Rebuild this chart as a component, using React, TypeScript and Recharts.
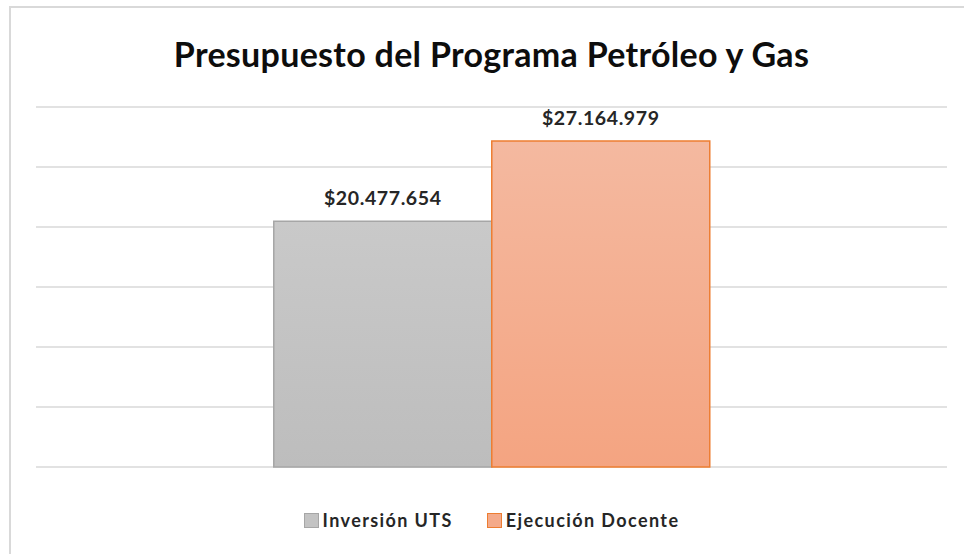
import { BarChart, Bar, XAxis, YAxis, CartesianGrid, Legend, LabelList } from "recharts";

const categories = ["Presupuesto"];
const inversionUts = [20477654];
const ejecucionDocente = [27164979];
const yTicks = [0, 5000000, 10000000, 15000000, 20000000, 25000000, 30000000];

const data = categories.map((c, i) => ({
  name: c,
  inversion: inversionUts[i],
  ejecucion: ejecucionDocente[i],
}));

const money = (v: any) => "$" + Number(v).toString().replace(/\B(?=(\d{3})+(?!\d))/g, ".");

const font = "Lato, 'Open Sans', sans-serif";

const legendItems = [
  { label: "Inversión UTS", fill: "#c3c3c3", stroke: "#a6a6a6" },
  { label: "Ejecución Docente", fill: "#f4aa8a", stroke: "#ed7d31" },
];

function LegendContent() {
  return (
    <div style={{ display: "flex", justifyContent: "center", gap: 34, fontFamily: font, fontWeight: 700, fontSize: 18, letterSpacing: 1.4, color: "#262626" }}>
      {legendItems.map((it) => (
        <div key={it.label} style={{ display: "flex", alignItems: "center", gap: 4 }}>
          <span style={{ width: 15, height: 15, background: it.fill, border: `1px solid ${it.stroke}`, boxSizing: "border-box", display: "inline-block" }} />
          <span>{it.label}</span>
        </div>
      ))}
    </div>
  );
}

const labelStyle = { fontFamily: font, fontWeight: 700, fontSize: 19.5, letterSpacing: 0.6, fill: "#262626" };

export default function App() {
  return (
    <div style={{ position: "fixed", top: 0, left: 0, width: 964, height: 554, background: "#fff" }}>
      <div style={{ position: "absolute", left: 9, top: 6, right: 0, bottom: 0, borderLeft: "2px solid #d9d9d9", borderTop: "2px solid #d9d9d9" }} />
      <div style={{ position: "absolute", top: 33, left: 0, width: 983, textAlign: "center", fontFamily: font, fontWeight: 700, fontSize: 34, letterSpacing: 0.3, color: "#0d0d0d" }}>
        Presupuesto del Programa Petróleo y Gas
      </div>
      <BarChart
        width={964}
        height={554}
        data={data}
        margin={{ top: 107, right: 17, bottom: 57, left: 36 }}
        barCategoryGap="26.1%"
        barGap={0}
        style={{ position: "absolute", top: 0, left: 0 }}
      >
        <defs>
          <linearGradient id="gGray" x1="0" y1="0" x2="0" y2="1">
            <stop offset="0%" stopColor="#c9c9c9" />
            <stop offset="100%" stopColor="#bdbdbd" />
          </linearGradient>
          <linearGradient id="gOrange" x1="0" y1="0" x2="0" y2="1">
            <stop offset="0%" stopColor="#f4b9a0" />
            <stop offset="100%" stopColor="#f4a481" />
          </linearGradient>
        </defs>
        <CartesianGrid vertical={false} stroke="#d9d9d9" strokeWidth={1.5} />
        <XAxis dataKey="name" hide />
        <YAxis hide domain={[0, 30000000]} ticks={yTicks} />
        <Legend verticalAlign="bottom" height={30} content={<LegendContent />} wrapperStyle={{ bottom: 15 }} />
        <Bar dataKey="inversion" name="Inversión UTS" fill="url(#gGray)" stroke="#a6a6a6" strokeWidth={1.5} isAnimationActive={false}>
          <LabelList dataKey="inversion" position="top" offset={16} formatter={money} style={labelStyle} />
        </Bar>
        <Bar dataKey="ejecucion" name="Ejecución Docente" fill="url(#gOrange)" stroke="#ed7d31" strokeWidth={1.5} isAnimationActive={false}>
          <LabelList dataKey="ejecucion" position="top" offset={16} formatter={money} style={labelStyle} />
        </Bar>
      </BarChart>
    </div>
  );
}
